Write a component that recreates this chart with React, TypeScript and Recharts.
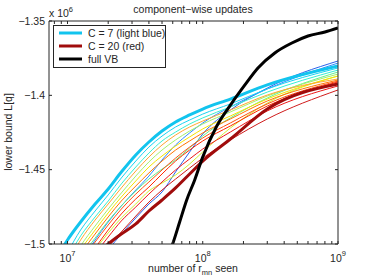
import { LineChart, Line, XAxis, YAxis } from 'recharts'

// x positions (number of r_mn seen) shared by the C-sweep curves
const samples = [8e6, 1e7, 1.25e7, 1.6e7, 2e7, 2.5e7, 3.2e7, 4e7, 5e7, 6.3e7, 8e7, 1e8, 1.6e8, 3e8, 1e9]

// thin curves (other C values), lower bound in units of 1e6
const cyanA = [-1.5188, -1.5054, -1.4906, -1.4778, -1.467, -1.4556, -1.4442, -1.4348, -1.4274, -1.4213, -1.4166, -1.4126, -1.4058, -1.3957, -1.3816]
const aqua = [-1.5229, -1.5094, -1.4946, -1.4818, -1.4711, -1.4596, -1.4482, -1.4388, -1.4307, -1.4247, -1.4193, -1.4152, -1.4078, -1.3978, -1.383]
const orangeA = [-1.5255, -1.5121, -1.4973, -1.4839, -1.4731, -1.4623, -1.4509, -1.4415, -1.4334, -1.4267, -1.4213, -1.4173, -1.4099, -1.3998, -1.389]
const lightGreen = [-1.5296, -1.5161, -1.5013, -1.4879, -1.4765, -1.4657, -1.4543, -1.4448, -1.4368, -1.43, -1.424, -1.4193, -1.4112, -1.4005, -1.3857]
const yellow = [-1.5323, -1.5188, -1.504, -1.4906, -1.4791, -1.4684, -1.4576, -1.4482, -1.4408, -1.4341, -1.428, -1.4226, -1.4139, -1.4025, -1.387]
const orangeB = [-1.535, -1.5215, -1.5067, -1.4933, -1.4818, -1.4711, -1.461, -1.4522, -1.4442, -1.4368, -1.4307, -1.4253, -1.4159, -1.4038, -1.3897]
const green = [-1.5377, -1.5242, -1.5094, -1.496, -1.4845, -1.4744, -1.4643, -1.4563, -1.4496, -1.4435, -1.4354, -1.4274, -1.4152, -1.4018, -1.3843]
const redOrange = [-1.5404, -1.5269, -1.5121, -1.4987, -1.4872, -1.4765, -1.4664, -1.4583, -1.4502, -1.4422, -1.4348, -1.4287, -1.4186, -1.4058, -1.3904]
const redA = [-1.5444, -1.5309, -1.5161, -1.5027, -1.4906, -1.4798, -1.4697, -1.4617, -1.4529, -1.4442, -1.4368, -1.4307, -1.4206, -1.4072, -1.391]
const yellowGreen = [-1.5457, -1.5323, -1.5175, -1.504, -1.4926, -1.4825, -1.4731, -1.4643, -1.459, -1.4536, -1.4462, -1.4381, -1.422, -1.4052, -1.387]
const redB = [-1.5484, -1.535, -1.5202, -1.5067, -1.4953, -1.4845, -1.4751, -1.4664, -1.4583, -1.4502, -1.4428, -1.4361, -1.4247, -1.4105, -1.3937]
const redC = [-1.5551, -1.5417, -1.5269, -1.5134, -1.502, -1.4919, -1.4812, -1.4718, -1.4637, -1.4563, -1.4489, -1.4422, -1.43, -1.4159, -1.3964]
const blueA = [-1.5377, -1.5255, -1.5121, -1.4973, -1.4852, -1.4744, -1.4637, -1.4543, -1.4435, -1.4334, -1.4253, -1.4186, -1.4078, -1.3957, -1.3783]
const blueB = [-1.5511, -1.541, -1.5309, -1.5161, -1.504, -1.4933, -1.4825, -1.4731, -1.465, -1.4515, -1.4381, -1.426, -1.4099, -1.3951, -1.3769]

// highlighted curves
const c7 = [-1.5121, -1.4973, -1.4852, -1.4731, -1.463, -1.4516, -1.4401, -1.4314, -1.424, -1.4179, -1.4132, -1.4092, -1.4025, -1.393, -1.3803]
const c20 = [-1.5309, -1.5242, -1.5161, -1.5081, -1.5, -1.4933, -1.4865, -1.4778, -1.4704, -1.4623, -1.4529, -1.4442, -1.4294, -1.4092, -1.3924]

// full VB
const vbX = [5.69e7, 5.99e7, 6.75e7, 7.61e7, 8.72e7, 1e8, 1.27e8, 1.64e8, 2.05e8, 2.56e8, 3.41e8, 4.56e8, 6.0e8, 8.01e8, 1e9]
const vbY = [-1.5054, -1.5, -1.4852, -1.4704, -1.4569, -1.4415, -1.4206, -1.4052, -1.393, -1.3816, -1.3715, -1.3648, -1.3601, -1.3574, -1.3547]

const xTicks = [
  8e6, 9e6, 1e7, 2e7, 3e7, 4e7, 5e7, 6e7, 7e7, 8e7, 9e7,
  1e8, 2e8, 3e8, 4e8, 5e8, 6e8, 7e8, 8e8, 9e8, 1e9,
]
const yTicks = [-1.5, -1.45, -1.4, -1.35]
const yTickLabels = ['\u22121.5', '\u22121.45', '\u22121.4', '\u22121.35']

const thin = [
  { name: 'blueB', color: '#2a62ea', values: blueB },
  { name: 'blueA', color: '#2e8cff', values: blueA },
  { name: 'cyanA', color: '#18d4f2', values: cyanA },
  { name: 'aqua', color: '#36f0d2', values: aqua },
  { name: 'green', color: '#66f08e', values: green },
  { name: 'lightGreen', color: '#a4f06a', values: lightGreen },
  { name: 'yellowGreen', color: '#d2f032', values: yellowGreen },
  { name: 'yellow', color: '#f6e400', values: yellow },
  { name: 'orangeA', color: '#ffa630', values: orangeA },
  { name: 'orangeB', color: '#ff7400', values: orangeB },
  { name: 'redOrange', color: '#ff5010', values: redOrange },
  { name: 'redA', color: '#ff2a00', values: redA },
  { name: 'redB', color: '#ee1818', values: redB },
  { name: 'redC', color: '#d01c1c', values: redC },
]

const AXIS = '#262626'
const FONT = '"Liberation Sans", Arial, sans-serif'
const FS = 10.5

const toPts = (xs: number[], ys: number[]) => xs.map((x, i) => ({ x, y: ys[i] }))
const isMajor = (v: number) => Math.abs(Math.log10(v) - Math.round(Math.log10(v))) < 1e-6

function BottomTick({ x, y, payload }: any) {
  const v = payload.value
  return (
    <g>
      <line x1={x} y1={y} x2={x} y2={y - 3} stroke={AXIS} />
      {isMajor(v) && (
        <text x={x} y={y + 18} textAnchor="middle" fontFamily={FONT} fontSize={FS} fill={AXIS}>
          10<tspan dy={-6} fontSize={7.5}>{Math.round(Math.log10(v))}</tspan>
        </text>
      )}
    </g>
  )
}

function TopTick({ x, y }: any) {
  return <line x1={x} y1={y} x2={x} y2={y + 3} stroke={AXIS} />
}

function LeftTick({ x, y, payload, index }: any) {
  const i = yTicks.indexOf(payload.value)
  return (
    <g>
      <line x1={x} y1={y} x2={x + 3} y2={y} stroke={AXIS} />
      <text x={x - 4} y={y + 3.8} textAnchor="end" fontFamily={FONT} fontSize={FS} fill={AXIS}>
        {yTickLabels[i >= 0 ? i : index]}
      </text>
    </g>
  )
}

function RightTick({ x, y }: any) {
  return <line x1={x} y1={y} x2={x - 3} y2={y} stroke={AXIS} />
}

const legendRows = [
  { label: 'C = 7 (light blue)', color: '#12c4ee' },
  { label: 'C = 20 (red)', color: '#a00c0c' },
  { label: 'full VB', color: '#000000' },
]

export default function App() {
  return (
    <div style={{ width: 373, height: 280 }}>
      <style>{'body{margin:0}'}</style>
      <LineChart width={373} height={280} margin={{ top: 11, right: 0, bottom: 0, left: 0 }}>
        <XAxis
          dataKey="x"
          type="number"
          scale="log"
          domain={[7.3e6, 1e9]}
          allowDataOverflow
          ticks={xTicks}
          interval={0}
          tick={<BottomTick />}
          tickLine={false}
          tickSize={0}
          tickMargin={0}
          height={36}
          stroke={AXIS}
        />
        <XAxis
          xAxisId="top"
          orientation="top"
          dataKey="x"
          type="number"
          scale="log"
          domain={[7.3e6, 1e9]}
          allowDataOverflow
          ticks={xTicks}
          interval={0}
          tick={<TopTick />}
          tickLine={false}
          tickSize={0}
          tickMargin={0}
          height={10}
          stroke={AXIS}
        />
        <YAxis
          type="number"
          domain={[-1.5, -1.35]}
          allowDataOverflow
          ticks={yTicks}
          interval={0}
          tick={<LeftTick />}
          tickLine={false}
          tickSize={0}
          tickMargin={0}
          width={49}
          stroke={AXIS}
        />
        <YAxis
          yAxisId="right"
          orientation="right"
          type="number"
          domain={[-1.5, -1.35]}
          allowDataOverflow
          ticks={yTicks}
          interval={0}
          tick={<RightTick />}
          tickLine={false}
          tickSize={0}
          tickMargin={0}
          width={35}
          stroke={AXIS}
        />
        {thin.map(s => (
          <Line
            key={s.name}
            data={toPts(samples, s.values)}
            dataKey="y"
            type="monotone"
            stroke={s.color}
            strokeWidth={1}
            dot={false}
            isAnimationActive={false}
          />
        ))}
        <Line data={toPts(samples, c7)} dataKey="y" type="monotone" stroke="#12c4ee" strokeWidth={3} dot={false} isAnimationActive={false} />
        <Line data={toPts(samples, c20)} dataKey="y" type="monotone" stroke="#a00c0c" strokeWidth={3} dot={false} isAnimationActive={false} />
        <Line data={toPts(vbX, vbY)} dataKey="y" type="monotone" stroke="#000000" strokeWidth={3} dot={false} isAnimationActive={false} />

        <text x={193} y={12.5} textAnchor="middle" fontFamily={FONT} fontSize={FS} fill={AXIS}>
          component{'\u2212'}wise updates
        </text>
        <text x={49} y={17} fontFamily={FONT} fontSize={FS} fill={AXIS}>
          x 10<tspan dy={-5} fontSize={7.5}>6</tspan>
        </text>
        <text x={193} y={272} textAnchor="middle" fontFamily={FONT} fontSize={FS} fill={AXIS}>
          number of r<tspan dy={3} fontSize={7.5}>mn</tspan><tspan dy={-3}> seen</tspan>
        </text>
        <text x={12} y={132} textAnchor="middle" transform="rotate(-90, 12, 132)" fontFamily={FONT} fontSize={FS} fill={AXIS}>
          lower bound L[q]
        </text>
        <g>
          <rect x={53.5} y={25.5} width={112} height={42} fill="#fff" stroke={AXIS} />
          {legendRows.map((r, i) => (
            <g key={r.label}>
              <line x1={59} x2={82} y1={33 + i * 13} y2={33 + i * 13} stroke={r.color} strokeWidth={3} />
              <text x={88} y={36.8 + i * 13} fontFamily={FONT} fontSize={FS} fill={AXIS}>
                {r.label}
              </text>
            </g>
          ))}
        </g>
      </LineChart>
    </div>
  )
}
